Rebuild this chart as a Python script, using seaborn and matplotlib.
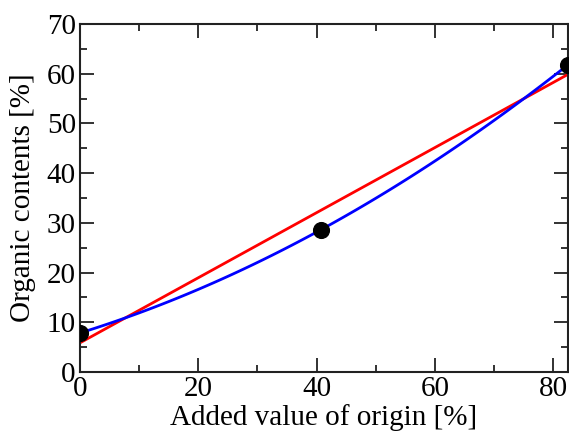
import numpy as np
import pandas as pd
import matplotlib
matplotlib.use("Agg")
import matplotlib.pyplot as plt
import seaborn as sns
from matplotlib.ticker import MultipleLocator

added = [0.0, 40.7, 82.5]
organic = [7.85, 28.6, 61.8]
df = pd.DataFrame({"added": added, "organic": organic})

sns.set_style("ticks")
plt.rcParams["font.family"] = ["Liberation Serif", "DejaVu Serif"]
plt.rcParams["text.color"] = "black"
plt.rcParams["axes.labelcolor"] = "black"
plt.rcParams["xtick.color"] = "black"
plt.rcParams["ytick.color"] = "black"

fig = plt.figure(figsize=(5.69, 4.38), dpi=100)
ax = fig.add_axes([80/569, 1-372/438, (568-80)/569, (372-24)/438])

sns.regplot(data=df, x="added", y="organic", order=1, ci=None, ax=ax,
            scatter=False, line_kws=dict(color="#ff0000", lw=2, zorder=2))
sns.regplot(data=df, x="added", y="organic", order=2, ci=None, ax=ax,
            scatter=False, line_kws=dict(color="#0000ff", lw=2, zorder=3))
sns.scatterplot(data=df, x="added", y="organic", ax=ax, color="black",
                s=130, edgecolor="black", zorder=4, clip_on=True)

ax.set_xlim(0, 82.5)
ax.set_ylim(0, 70)
ax.xaxis.set_major_locator(MultipleLocator(20))
ax.xaxis.set_minor_locator(MultipleLocator(10))
ax.yaxis.set_major_locator(MultipleLocator(10))
ax.yaxis.set_minor_locator(MultipleLocator(5))
ax.tick_params(which="both", direction="in", top=True, right=True,
               width=1.3, color="#222222", labelsize=21, pad=3,
               labelcolor="black")
ax.tick_params(which="major", length=10)
ax.tick_params(which="minor", length=5)
for s in ax.spines.values():
    s.set_linewidth(1.5)
    s.set_color("#222222")
    s.set_visible(True)
ax.set_xlabel("Added value of origin [%]", fontsize=21, labelpad=1, color="black")
ax.set_ylabel("Organic contents [%]", fontsize=21, labelpad=8, color="black")

fig.savefig("out.png", dpi=100)
